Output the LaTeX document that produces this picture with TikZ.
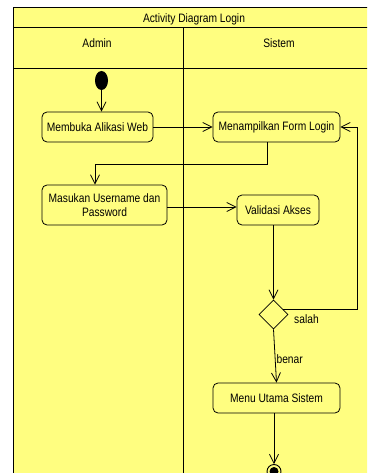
\documentclass[tikz,border=0pt]{standalone}
\usepackage{fontspec}
\setmainfont{Liberation Sans}[FakeStretch=0.84]
\usetikzlibrary{arrows.meta,shapes.geometric,calc}
\definecolor{laneyellow}{RGB}{255,254,128}
\tikzset{
  frameline/.style={draw=black, line width=1pt},
  act/.style={draw=black, line width=0.8pt, fill=laneyellow, rounded corners=5pt,
    align=center, inner sep=2pt, font=\fontsize{12.2}{13.5}\selectfont},
  flow/.style={draw=black, line width=0.8pt, -{Straight Barb[length=9pt,width=9pt,line width=0.8pt]}},
  lbl/.style={font=\fontsize{12.2}{13.5}\selectfont, inner sep=1pt},
  hdr/.style={font=\fontsize{12.2}{13.5}\selectfont, inner sep=0pt},
}
\begin{document}
\begin{tikzpicture}[x=1pt,y=-1pt]
\useasboundingbox (0,0) rectangle (367,473);
\clip (0,0) rectangle (367,473);
\fill[white] (0,0) rectangle (367,473);
% swimlane frame
\fill[laneyellow] (13,7.5) rectangle (372,480);
\draw[frameline] (13,480) -- (13,7.5) -- (372,7.5);
\draw[frameline] (13,28) -- (372,28);
\draw[frameline] (13,69) -- (372,69);
\draw[frameline] (183,28) -- (183,480);
\node[hdr] (title) at (194,19) {Activity Diagram Login};
\node[hdr] (admin) at (97,43) {Admin};
\node[hdr] (sistem) at (279,43) {Sistem};
% nodes
\node[ellipse, fill=black, minimum width=13pt, minimum height=19pt, inner sep=0pt] (start) at (101.5,80.5) {};
\node[act, minimum width=111pt, minimum height=30pt] (m1) at (97.5,127) {Membuka Alikasi Web};
\node[act, minimum width=127pt, minimum height=30pt] (m2) at (276.5,127) {Menampilkan Form Login};
\node[act, minimum width=125pt, minimum height=40pt] (m3) at (104.5,205) {Masukan Username dan\\Password};
\node[act, minimum width=82pt, minimum height=30pt] (v) at (278,210) {Validasi Akses};
\node[diamond, draw=black, line width=0.8pt, fill=laneyellow, minimum width=29pt, minimum height=29pt, inner sep=0pt] (d) at (273.5,314.5) {};
\node[act, minimum width=127pt, minimum height=30pt] (mu) at (276.5,398) {Menu Utama Sistem};
\node[circle, draw=black, line width=0.9pt, fill=laneyellow, minimum size=14pt, inner sep=0pt] (end) at (274,471.5) {};
\node[circle, fill=black, minimum size=9pt, inner sep=0pt] (endin) at (end) {};
\coordinate (loopc) at (357,127);
% flows
\draw[flow] (start.south) -- (start.south |- m1.north);
\draw[flow] (m1.east) -- (m2.west);
\draw[flow] ([xshift=-9.5pt]m2.south) -- ++(0,22) -| ([xshift=-9.5pt]m3.north);
\draw[flow] ([yshift=-2pt]m3.east) -- ([yshift=-2pt]m3.east -| v.west);
\draw[flow] (d.north |- v.south) -- (d.north);
\draw[flow] ($(d.center)+(9.5,-5.5)$) -| (loopc) -- (m2.east);
\node[lbl, anchor=west] (salah) at (293,319.5) {salah};
\draw[flow] (d.south) -- node[lbl, pos=0.55, anchor=west] (benar) {benar} (mu.north);
\draw[flow] (end.north |- mu.south) -- (end.north);
\end{tikzpicture}
\end{document}
